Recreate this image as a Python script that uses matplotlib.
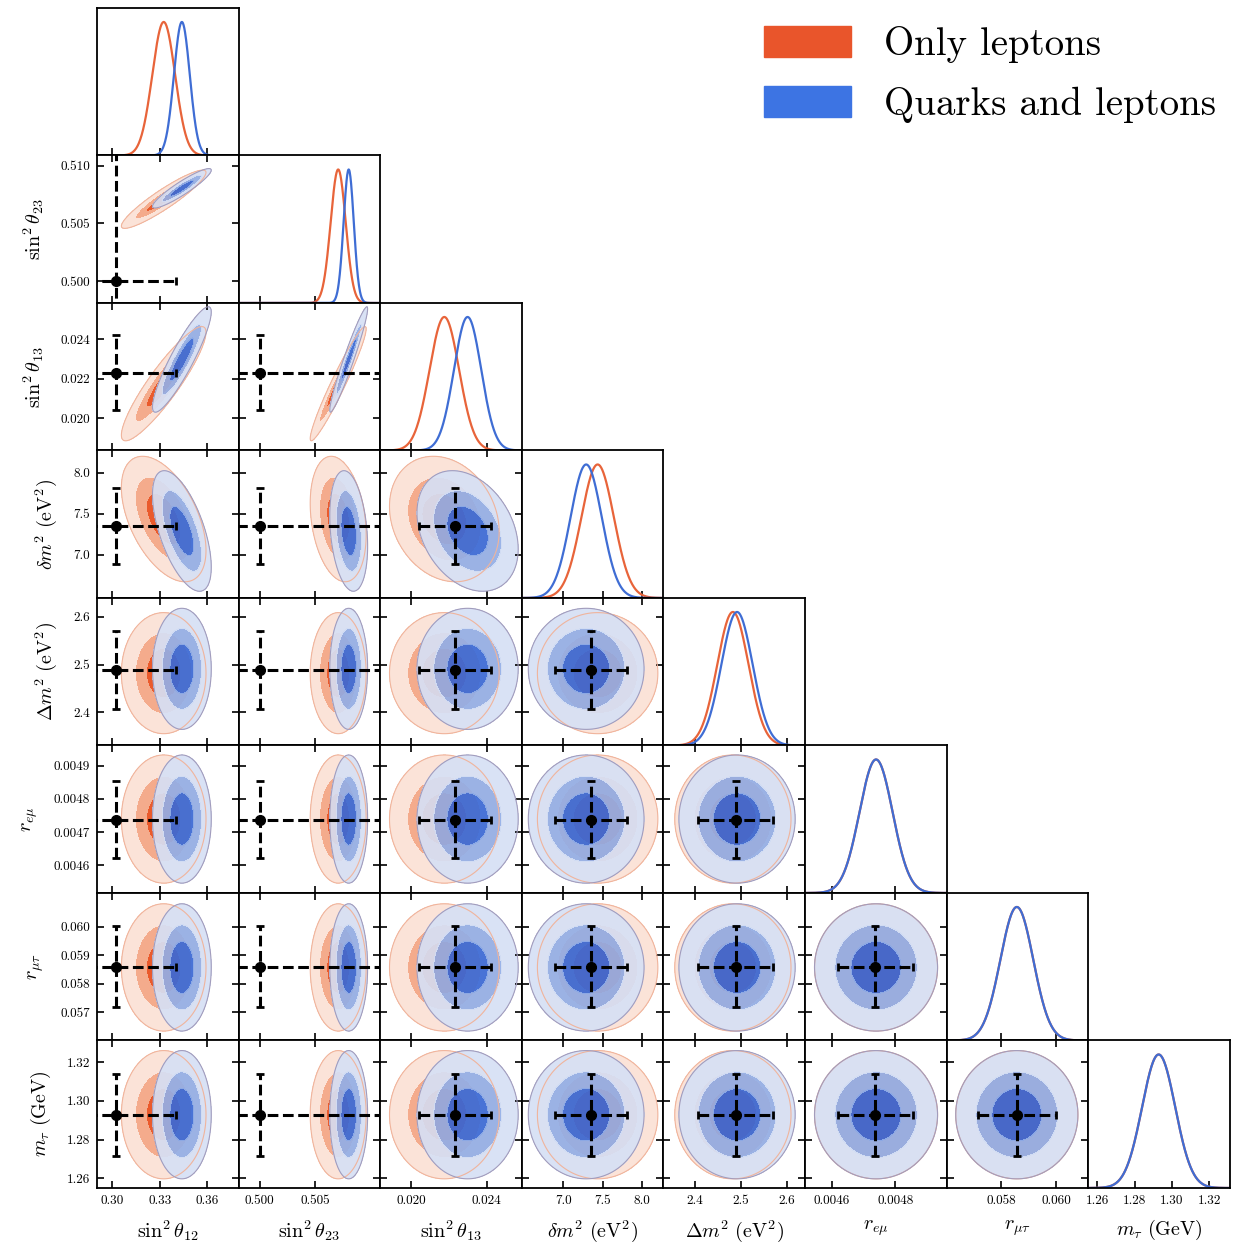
import numpy as np
import matplotlib.pyplot as plt
from matplotlib.patches import Patch

plt.rcParams['font.family'] = 'serif'
plt.rcParams['font.serif'] = ['cmr10']
plt.rcParams['mathtext.fontset'] = 'cm'
plt.rcParams['axes.unicode_minus'] = False

# parameters of the triangle plot
labels = [r'$\sin^2\theta_{12}$', r'$\sin^2\theta_{23}$', r'$\sin^2\theta_{13}$',
          r'$\delta m^2\ (\mathrm{eV}^2)$', r'$\Delta m^2\ (\mathrm{eV}^2)$',
          r'$r_{e\mu}$', r'$r_{\mu\tau}$', r'$m_\tau\ (\mathrm{GeV})$']
lo = [0.2903, 0.4981, 0.01836, 6.476, 2.331, 0.004516, 0.05601, 1.2551]
hi = [0.3799, 0.5109, 0.02585, 8.268, 2.639, 0.004961, 0.06118, 1.3312]
xticks = [[0.30, 0.33, 0.36], [0.500, 0.505], [0.020, 0.024], [7.0, 7.5, 8.0],
          [2.4, 2.5, 2.6], [0.0046, 0.0048], [0.058, 0.060], [1.26, 1.28, 1.30, 1.32]]
yticks = [[], [0.500, 0.505, 0.510], [0.020, 0.022, 0.024], [7.0, 7.5, 8.0],
          [2.4, 2.5, 2.6], [0.0046, 0.0047, 0.0048, 0.0049],
          [0.057, 0.058, 0.059, 0.060], [1.26, 1.28, 1.30, 1.32]]
fmts = ['%.2f', '%.3f', '%.3f', '%.1f', '%.1f', '%.4f', '%.3f', '%.2f']

# posterior summaries: "Only leptons"
mean_lep = [0.3325, 0.5071, 0.02175, 7.435, 2.482, 0.004739, 0.05857, 1.2929]
sig_lep = [0.0072, 0.00068, 0.00078, 0.205, 0.034, 5.2e-5, 0.0006, 0.0089]
# "Quarks and leptons"
mean_ql = [0.3440, 0.50805, 0.02298, 7.29, 2.491, 0.004739, 0.05857, 1.2929]
sig_ql = [0.0050, 0.00046, 0.00072, 0.197, 0.034, 5.2e-5, 0.0006, 0.0089]

# pairwise correlations (others zero)
rho_lep = {(0, 1): 0.92, (0, 2): 0.90, (1, 2): 0.96, (0, 3): -0.5, (1, 3): -0.25, (2, 3): -0.2}
rho_ql = {(0, 1): 0.92, (0, 2): 0.90, (1, 2): 0.96, (0, 3): -0.6, (1, 3): -0.25, (2, 3): -0.3}

# black reference point with errors
ref = [0.3025, 0.500, 0.0223, 7.35, 2.488, 0.004737, 0.05859, 1.2927]
ref_err = [0.038, 0.020, 0.0019, 0.46, 0.081, 0.000117, 0.00142, 0.021]

lep_fill = ['#ea5a2c', '#f4ab8c', '#fbe3d8']
ql_fill = ['#3a6ad6', '#93aee6', '#d6e0f5']
lep_line = '#e8643a'
ql_line = '#3f6dd4'
levels = [0, 2.30, 6.18, 13.82]

n = len(labels)
fig = plt.figure(figsize=(12.34, 12.42), dpi=100)
gs = fig.add_gridspec(n, n, left=0.0786, right=0.9967, top=0.9936, bottom=0.0435,
                      wspace=0, hspace=0)


def chi2(X, Y, mx, my, sx, sy, r):
    dx = (X - mx) / sx
    dy = (Y - my) / sy
    return (dx**2 - 2 * r * dx * dy + dy**2) / (1 - r**2)


def draw_2d(ax, j, i, mean, sig, rho, fills, edge, alpha):
    xs = np.linspace(lo[j], hi[j], 300)
    ys = np.linspace(lo[i], hi[i], 300)
    X, Y = np.meshgrid(xs, ys)
    r = rho.get((j, i), 0.0)
    Z = chi2(X, Y, mean[j], mean[i], sig[j], sig[i], r)
    ax.contourf(X, Y, Z, levels=levels, colors=fills, alpha=alpha)
    ax.contour(X, Y, Z, levels=[levels[3]], colors=edge, linewidths=0.8)


for i in range(n):
    for j in range(i + 1):
        ax = fig.add_subplot(gs[i, j])
        if i == j:
            xs = np.linspace(lo[j], hi[j], 400)
            ax.plot(xs, np.exp(-0.5 * ((xs - mean_lep[j]) / sig_lep[j])**2), color=lep_line, lw=1.6)
            ax.plot(xs, np.exp(-0.5 * ((xs - mean_ql[j]) / sig_ql[j])**2), color=ql_line, lw=1.6)
            ax.set_ylim(0, 1.105)
            ax.set_yticks([])
            ax.tick_params(direction='in', length=5, width=1.2, labelsize=9.5, pad=5)
        else:
            draw_2d(ax, j, i, mean_lep, sig_lep, rho_lep, lep_fill, '#f0b49c', 1.0)
            draw_2d(ax, j, i, mean_ql, sig_ql, rho_ql, ql_fill, '#a29cbc', 0.92)
            eb = ax.errorbar(ref[j], ref[i], xerr=ref_err[j], yerr=ref_err[i], fmt='o',
                             color='k', ms=7, lw=2.2, capsize=3, capthick=2, zorder=5)
            for c in eb[2]:
                c.set_linestyle((0, (3.5, 1.5)))
            ax.set_ylim(lo[i], hi[i])
            ax.set_yticks(yticks[i])
            ax.tick_params(direction='in', top=True, right=True, length=5, width=1.2,
                           labelsize=9.5, pad=5)
        ax.set_xlim(lo[j], hi[j])
        ax.set_xticks(xticks[j])
        for s in ax.spines.values():
            s.set_linewidth(1.3)
        if i == n - 1:
            ax.set_xticklabels([fmts[j] % t for t in xticks[j]])
            ax.set_xlabel(labels[j], fontsize=14.5, labelpad=8)
        else:
            ax.set_xticklabels([])
        if j == 0 and i > 0:
            ax.set_yticklabels([fmts[i] % t for t in yticks[i]])
            ax.set_ylabel(labels[i], fontsize=14.5, labelpad=10)
        elif i != j:
            ax.set_yticklabels([])

handles = [Patch(color='#e9552b'), Patch(color='#3d74e3')]
fig.legend(handles, ['Only leptons', 'Quarks and leptons'], loc='upper left',
           bbox_to_anchor=(0.619, 0.979), fontsize=28, frameon=False,
           handlelength=2.24, handleheight=0.85, handletextpad=0.85,
           labelspacing=0.6, borderpad=0, borderaxespad=0)

fig.savefig('out.png', dpi=100)
